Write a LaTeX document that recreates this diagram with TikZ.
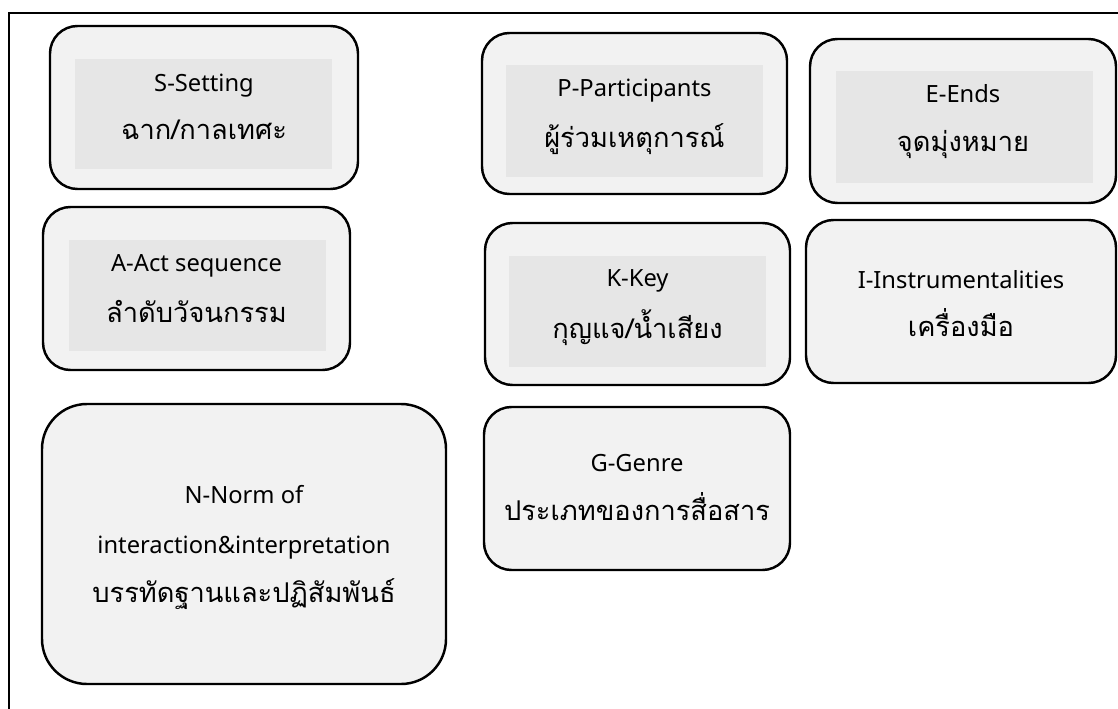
\documentclass[tikz,border=0pt]{standalone}
\usepackage{fontspec}
\setmainfont{Noto Sans}
\newfontfamily\thaifont[Script=Thai]{Loma}
\definecolor{outerfill}{HTML}{F2F2F2}
\definecolor{innerfill}{HTML}{E6E6E6}

% #1 name, #2 left, #3 top, #4 right, #5 bottom (pixels), #6 corner radius
\NewDocumentCommand{\partbox}{mmmmmO{0.55cm}}{%
\node[part, rounded corners=#6, minimum width={(#4-#2)*0.02cm}, minimum height={(#5-#3)*0.02cm}] (#1) at ({(#2+#4)/2},{(#3+#5)/2}) {};%
}
% grey band inside a box
\NewDocumentCommand{\partband}{mmmmm}{%
\node[band, minimum width={(#4-#2)*0.02cm}, minimum height={(#5-#3)*0.02cm}] (#1) at ({(#2+#4)/2},{(#3+#5)/2}) {};%
}

\begin{document}
\begin{tikzpicture}[x=0.02cm, y=-0.02cm,
    part/.style={draw, line width=1.4pt, fill=outerfill, inner sep=0pt},
    band/.style={fill=innerfill, inner sep=0pt},
    en/.style={anchor=base, inner sep=0pt, font=\fontsize{13.5}{16}\selectfont},
    th/.style={anchor=base, inner sep=0pt, font=\fontsize{15.5}{18}\selectfont\thaifont}]
        \useasboundingbox (0,0) rectangle (1118,709);

        % Outer frame.
        \draw[line width=1.1pt] (9,709) -- (9,13) -- (1118,13);

        % S.
        \partbox{setting}{50}{26}{358}{189}
        \partband{setting-b}{75}{59}{332}{169}
        \node[en] (setting-en) at (setting.center |- 0,92) {S-Setting};
        \node[th] (setting-th) at (setting.center |- 0,140) {ฉาก/กาลเทศะ};

        % P.
        \partbox{participants}{482}{33}{787}{194}
        \partband{participants-b}{506}{65}{763}{177}
        \node[en] (participants-en) at (participants.center |- 0,97) {P-Participants};
        \node[th] (participants-th) at (participants.center |- 0,148) {ผู้ร่วมเหตุการณ์};

        % E.
        \partbox{ends}{810}{39}{1116}{203}
        \partband{ends-b}{836}{71}{1093}{183}
        \node[en] (ends-en) at (ends.center |- 0,103) {E-Ends};
        \node[th] (ends-th) at (ends.center |- 0,152) {จุดมุ่งหมาย};

        % A.
        \partbox{act}{43}{207}{350}{370}
        \partband{act-b}{69}{240}{326}{351}
        \node[en] (act-en) at (act.center |- 0,272) {A-Act sequence};
        \node[th] (act-th) at (act.center |- 0,322) {ลำดับวัจนกรรม};

        % K.
        \partbox{key}{485}{223}{790}{385}
        \partband{key-b}{509}{256}{766}{367}
        \node[en] (key-en) at (key.center |- 0,287) {K-Key};
        \node[th] (key-th) at (key.center |- 0,338) {กุญแจ/น้ำเสียง};

        % I.
        \partbox{instr}{806}{220}{1116}{383}
        \node[en] (instr-en) at (instr.center |- 0,289) {I-Instrumentalities};
        \node[th] (instr-th) at (instr.center |- 0,337) {เครื่องมือ};

        % N.
        \partbox{norm}{42}{404}{446}{684}[0.9cm]
        \node[en] (norm-en) at (norm.center |- 0,503) {N-Norm of};
        \node[en] (norm-en2) at (norm.center |- 0,553) {interaction\&interpretation};
        \node[th] (norm-th) at (norm.center |- 0,602) {บรรทัดฐานและปฏิสัมพันธ์};

        % G.
        \partbox{genre}{484}{407}{790}{570}
        \node[en] (genre-en) at (genre.center |- 0,471) {G-Genre};
        \node[th] (genre-th) at (genre.center |- 0,520) {ประเภทของการสื่อสาร};
    \end{tikzpicture}
\end{document}
